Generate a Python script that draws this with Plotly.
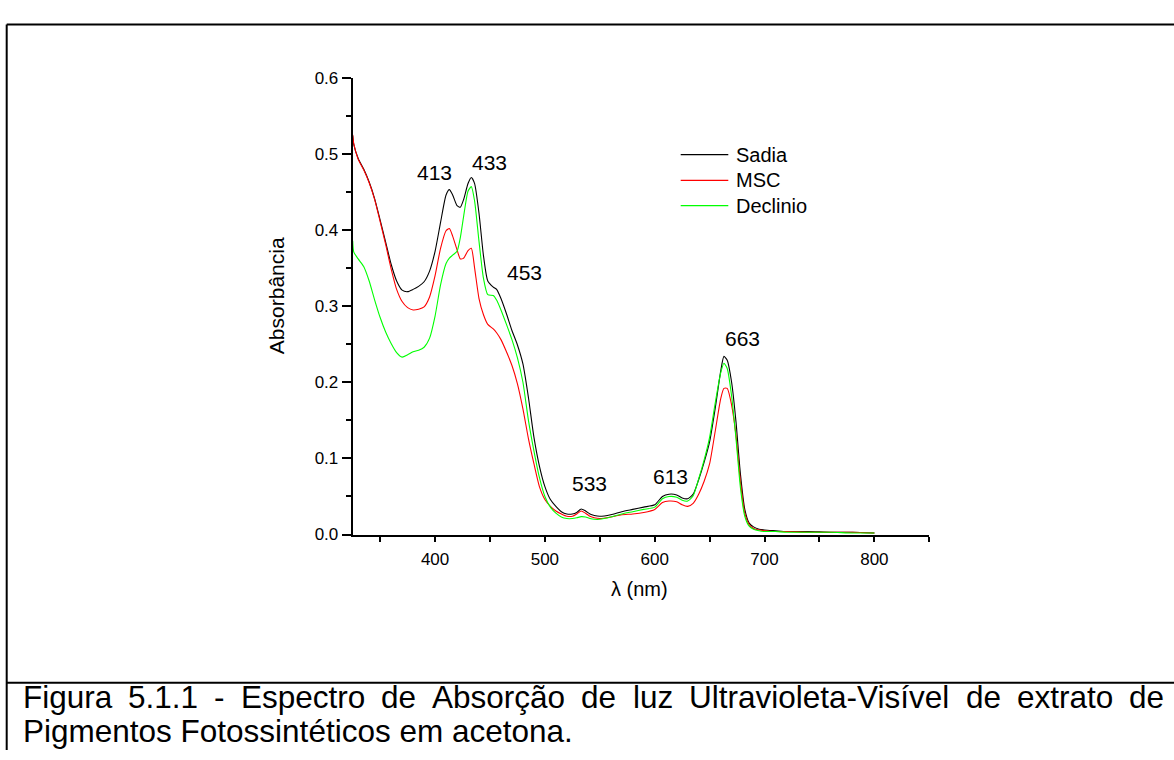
import plotly.graph_objects as go

# Wavelength grid (nm) and absorbance of the three acetone extracts
wavelength = [325, 326, 330, 335, 340, 345, 350, 355, 360, 365,
              370, 375, 380, 385, 390, 395, 400, 405, 410, 413,
              416, 420, 423, 426, 430, 433, 436, 440, 444, 448,
              453, 456, 460, 465, 470, 475, 480, 485, 490, 495,
              500, 505, 510, 515, 520, 525, 529, 533, 537, 541,
              545, 550, 560, 570, 580, 590, 600, 607, 613, 620,
              625, 630, 635, 640, 645, 650, 655, 660, 663, 666,
              670, 674, 678, 682, 686, 690, 695, 700, 710, 720,
              740, 760, 780, 800]

sadia = [0.524, 0.512, 0.494, 0.480, 0.463, 0.441, 0.413, 0.384, 0.355, 0.333,
         0.321, 0.319, 0.322, 0.326, 0.332, 0.346, 0.372, 0.410, 0.446, 0.453,
         0.446, 0.432, 0.430, 0.440, 0.461, 0.469, 0.461, 0.422, 0.367, 0.333,
         0.325, 0.322, 0.310, 0.290, 0.268, 0.249, 0.224, 0.180, 0.128, 0.090,
         0.063, 0.046, 0.037, 0.030, 0.027, 0.027, 0.029, 0.0335, 0.031, 0.027,
         0.025, 0.024, 0.026, 0.030, 0.033, 0.036, 0.039, 0.050, 0.053, 0.052,
         0.048, 0.047, 0.053, 0.072, 0.095, 0.122, 0.165, 0.214, 0.234, 0.229,
         0.200, 0.148, 0.080, 0.033, 0.015, 0.010, 0.007, 0.006, 0.005, 0.004,
         0.004, 0.003, 0.003, 0.002]

msc = [0.525, 0.513, 0.493, 0.479, 0.462, 0.440, 0.411, 0.381, 0.349, 0.322,
       0.306, 0.298, 0.295, 0.296, 0.299, 0.312, 0.340, 0.376, 0.399, 0.402,
       0.392, 0.374, 0.362, 0.363, 0.373, 0.376, 0.350, 0.310, 0.289, 0.276,
       0.270, 0.265, 0.256, 0.240, 0.222, 0.198, 0.165, 0.126, 0.093, 0.063,
       0.046, 0.037, 0.031, 0.027, 0.024, 0.024, 0.027, 0.031, 0.028, 0.024,
       0.022, 0.021, 0.023, 0.026, 0.027, 0.029, 0.033, 0.042, 0.044, 0.043,
       0.039, 0.037, 0.041, 0.053, 0.070, 0.093, 0.135, 0.178, 0.192, 0.192,
       0.170, 0.130, 0.070, 0.028, 0.013, 0.008, 0.006, 0.005, 0.004, 0.004,
       0.003, 0.003, 0.003, 0.002]

declinio = [0.386, 0.371, 0.362, 0.352, 0.333, 0.308, 0.285, 0.266, 0.251, 0.239,
            0.233, 0.236, 0.240, 0.242, 0.246, 0.258, 0.287, 0.328, 0.356, 0.363,
            0.367, 0.372, 0.390, 0.418, 0.451, 0.457, 0.438, 0.385, 0.337, 0.315,
            0.314, 0.308, 0.295, 0.276, 0.256, 0.232, 0.200, 0.150, 0.110, 0.075,
            0.050, 0.036, 0.028, 0.023, 0.021, 0.021, 0.022, 0.0235, 0.023, 0.021,
            0.020, 0.020, 0.023, 0.027, 0.030, 0.033, 0.036, 0.047, 0.050, 0.049,
            0.045, 0.044, 0.051, 0.073, 0.098, 0.128, 0.172, 0.212, 0.225, 0.218,
            0.182, 0.126, 0.062, 0.024, 0.011, 0.007, 0.005, 0.004, 0.004, 0.003,
            0.003, 0.003, 0.002, 0.002]

series_names = ["Sadia", "MSC", "Declinio"]
series_colors = ["#000000", "#ff0000", "#00ff00"]

# Peak labels: wavelength text and where the label sits (nm, absorbance)
peak_labels = ["413", "433", "453", "533", "613", "663"]
peak_label_x = [399.7, 450.0, 481.0, 540.2, 614.4, 679.6]
peak_label_y = [0.4757, 0.4885, 0.3444, 0.0666, 0.0768, 0.258]

caption_line1 = ["Figura", "5.1.1", "-", "Espectro", "de", "Absorção", "de",
                 "luz", "Ultravioleta-Visível", "de", "extrato", "de"]
caption_line2 = "Pigmentos Fotossintéticos em acetona."

W, H = 1174, 760
FONT = "Liberation Sans, Arial, Helvetica, sans-serif"

def px_x(p):
    return p / W

def px_y(p):
    return 1 - p / H

fig = go.Figure()
for name, color, values in zip(series_names, series_colors, [sadia, msc, declinio]):
    fig.add_trace(go.Scatter(
        x=wavelength, y=values, mode="lines", name=name,
        line=dict(color=color, width=1.1, shape="spline", smoothing=0.6),
        showlegend=False,
    ))

fig.update_layout(
    width=W, height=H,
    margin=dict(l=0, r=0, t=0, b=0),
    paper_bgcolor="white", plot_bgcolor="white",
    font=dict(family=FONT, color="black"),
    xaxis=dict(
        domain=[px_x(352.7), px_x(929.3)], range=[325, 850],
        showline=True, linecolor="black", linewidth=2, mirror=False,
        showgrid=False, zeroline=False,
        ticks="outside", ticklen=5, tickwidth=1.5, tickcolor="black",
        tick0=0, dtick=100, tickfont=dict(size=17, family=FONT), ticklabelstandoff=3,
        minor=dict(ticks="outside", ticklen=5, tickwidth=1.5, tickcolor="black", dtick=50, tick0=0),
    ),
    yaxis=dict(
        domain=[px_y(539), px_y(70.5)], range=[0, 0.6],
        showline=True, linecolor="black", linewidth=2,
        showgrid=False, zeroline=False,
        ticks="outside", ticklen=9, tickwidth=1.5, tickcolor="black",
        tick0=0, dtick=0.1, tickformat=".1f", tickfont=dict(size=17, family=FONT),
        minor=dict(ticks="outside", ticklen=5, tickwidth=1.5, tickcolor="black", dtick=0.05, tick0=0),
    ),
)

annotations = []
# axis titles
annotations.append(dict(text="Absorbância", x=px_x(276.5), y=px_y(294), xref="paper", yref="paper",
                        textangle=-90, showarrow=False, font=dict(size=21, family=FONT),
                        xanchor="center", yanchor="middle"))
annotations.append(dict(text="λ (nm)", x=px_x(639), y=px_y(595), xref="paper", yref="paper",
                        showarrow=False, font=dict(size=20, family=FONT),
                        xanchor="center", yanchor="middle"))
# peak labels
for t, lx, ly in zip(peak_labels, peak_label_x, peak_label_y):
    annotations.append(dict(text=t, x=lx, y=ly, xref="x", yref="y", showarrow=False,
                            font=dict(size=21, family=FONT), xanchor="center", yanchor="middle"))

# legend drawn as short line samples with labels
shapes = []
legend_rows = [149.3, 175.7, 201.7]
for name, color, ry in zip(series_names, series_colors, legend_rows):
    shapes.append(dict(type="line", xref="paper", yref="paper",
                       x0=px_x(680.7), x1=px_x(728.3), y0=px_y(ry), y1=px_y(ry),
                       line=dict(color=color, width=1.2)))
    annotations.append(dict(text=name, x=px_x(734), y=px_y(ry), xref="paper", yref="paper",
                            showarrow=False, font=dict(size=20, family=FONT),
                            xanchor="left", yanchor="middle"))

# page frame: top rule, left rule, caption separator
frame = dict(color="black", width=2)
shapes.append(dict(type="line", xref="paper", yref="paper", x0=px_x(6.7), x1=1.0,
                   y0=px_y(16), y1=px_y(16), line=frame))
shapes.append(dict(type="line", xref="paper", yref="paper", x0=px_x(6.7), x1=px_x(6.7),
                   y0=0.0, y1=px_y(16), line=frame))
shapes.append(dict(type="line", xref="paper", yref="paper", x0=px_x(6.7), x1=1.0,
                   y0=px_y(691), y1=px_y(691), line=frame))

# caption, first line justified between the margins
CAP = 31.5
HELV = {"F": 611, "i": 222, "g": 556, "u": 556, "r": 333, "a": 556, "5": 556, ".": 278,
        "1": 556, "-": 333, "E": 667, "s": 500, "p": 556, "e": 556, "c": 500, "t": 278,
        "o": 556, "d": 556, "A": 667, "b": 556, "ç": 500, "ã": 556, "l": 222, "z": 500,
        "U": 722, "v": 500, "V": 667, "í": 278, "x": 500, "P": 667, "m": 833, "n": 556,
        "é": 556, " ": 278}

def text_width(s, size):
    return sum(HELV.get(ch, 556) for ch in s) * size / 1000.0

left, right = 21.7, 1163.3
widths = [text_width(wd, CAP) for wd in caption_line1]
gap = (right - left - sum(widths)) / (len(caption_line1) - 1)
xpos = left
for wd, w in zip(caption_line1, widths):
    annotations.append(dict(text=wd, x=px_x(xpos), y=px_y(716.7 - 0.3465 * CAP), xref="paper", yref="paper",
                            showarrow=False, font=dict(size=CAP, family=FONT),
                            xanchor="left", yanchor="middle", borderpad=0))
    xpos += w + gap
annotations.append(dict(text=caption_line2, x=px_x(left), y=px_y(751 - 0.3465 * CAP), xref="paper", yref="paper",
                        showarrow=False, font=dict(size=CAP, family=FONT),
                        xanchor="left", yanchor="middle", borderpad=0))

fig.update_layout(annotations=annotations, shapes=shapes)
fig.write_html("out.html")
